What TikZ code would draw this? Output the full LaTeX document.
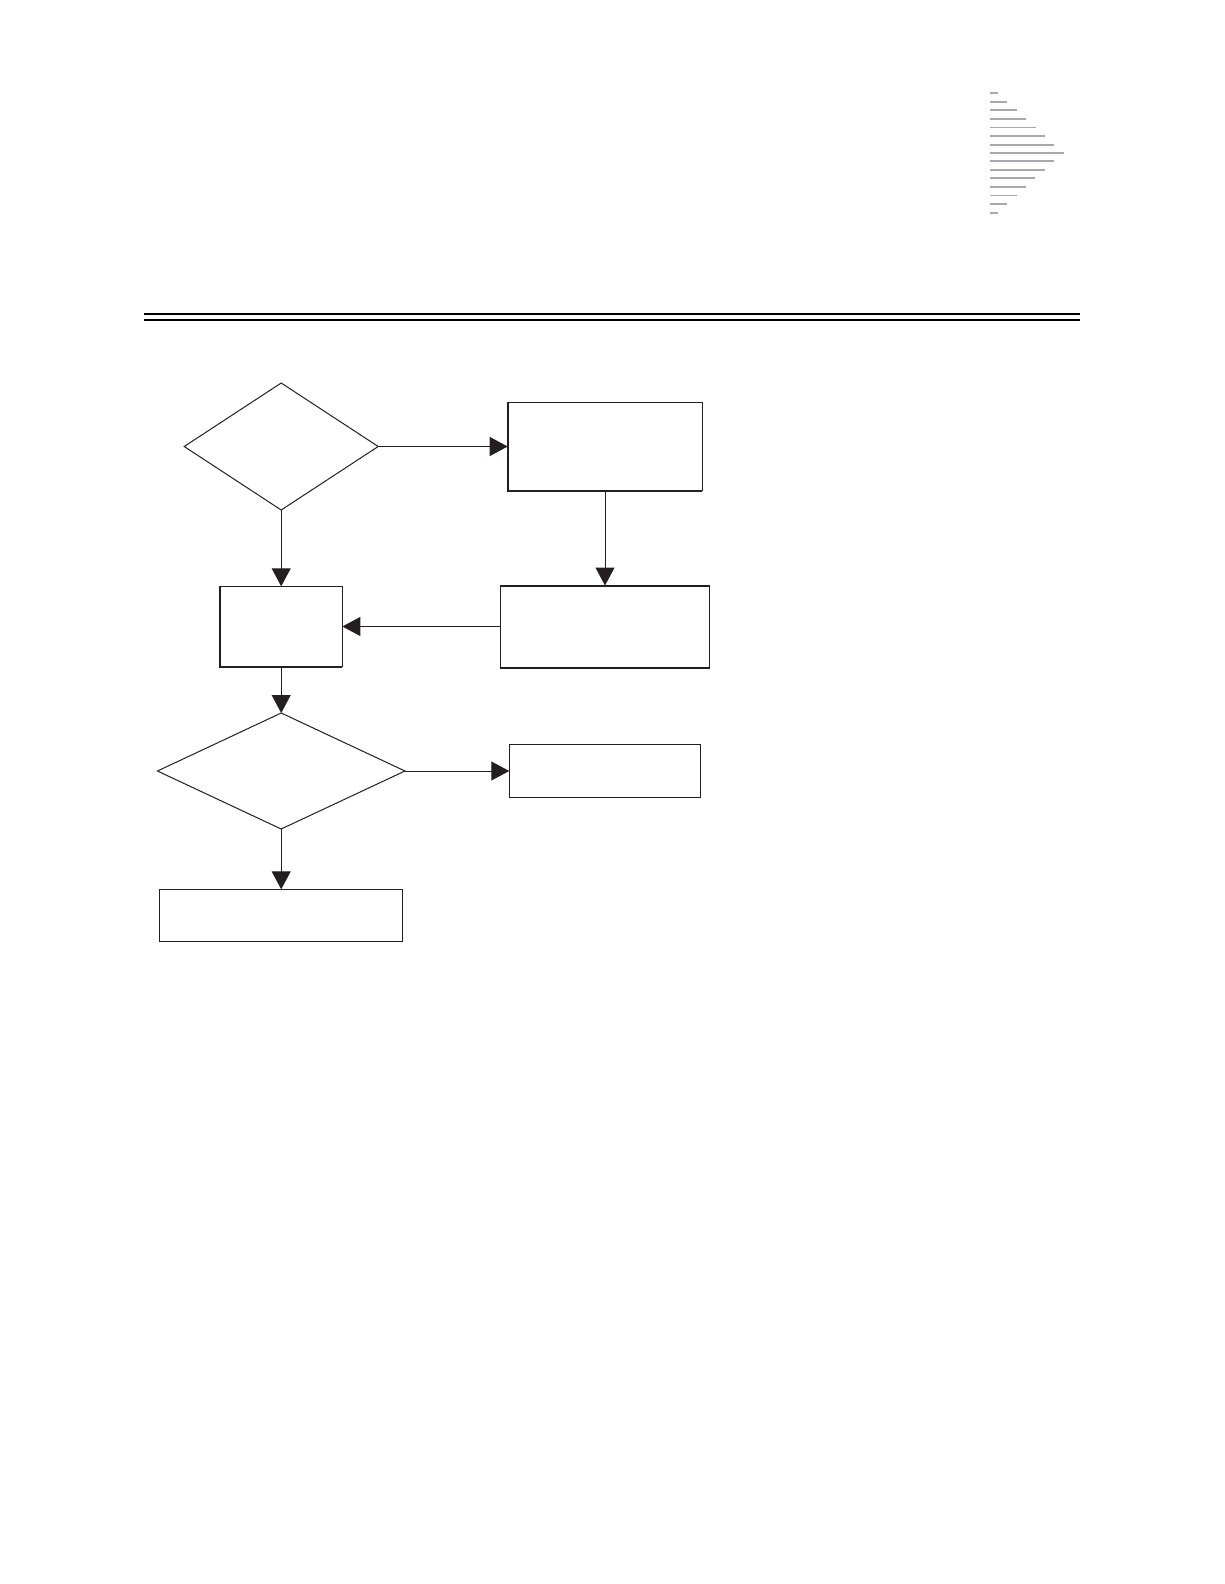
\documentclass[tikz,border=0pt]{standalone}
\usetikzlibrary{shapes.geometric,arrows.meta}
\definecolor{ink}{HTML}{231F20}
\definecolor{sparkgray}{HTML}{A7A9AC}
\tikzset{
  x=1pt,y=-1pt,
  flowbox/.style={rectangle,draw=ink,line width=1pt,inner sep=0pt,outer sep=0pt,fill=white},
  decision/.style={diamond,draw=ink,line width=1pt,inner sep=0pt,outer sep=0pt,fill=white},
  heavyedge/.style={draw=ink,line width=2pt,line cap=butt,line join=miter},
  flow/.style={draw=ink,line width=1pt,-{Triangle[length=18pt,width=19pt,fill=ink]}},
  headrule/.style={draw=black,line width=2.4pt},
  spark/.style={draw=sparkgray,line width=1.8pt},
  sparkthin/.style={draw=sparkgray,line width=1pt}
}
\begin{document}
\begin{tikzpicture}
\useasboundingbox[fill=white] (0,0) rectangle (1224,1584);
% header rules
\draw[headrule] (144,314.2) -- (1080,314.2);
\draw[headrule] (144,320) -- (1080,320);
% corner mark
\draw[spark] (990,92.7) -- (998,92.7);
\draw[spark] (990,101.7) -- (1007,101.7);
\draw[spark] (990,110) -- (1017,110);
\draw[spark] (990,119) -- (1026,119);
\draw[sparkthin] (990,127.3) -- (1036,127.3);
\draw[spark] (990,136) -- (1045,136);
\draw[spark] (990,144.7) -- (1054,144.7);
\draw[spark] (990,152.7) -- (1063.7,152.7);
\draw[spark] (990,161) -- (1054,161);
\draw[spark] (990,169.7) -- (1045,169.7);
\draw[spark] (990,178) -- (1035,178);
\draw[spark] (990,186.7) -- (1026,186.7);
\draw[sparkthin] (990,195.3) -- (1017,195.3);
\draw[spark] (990,204) -- (1007,204);
\draw[spark] (990,212.7) -- (998,212.7);
% nodes
\node[decision,minimum width=194pt,minimum height=127pt] (d1) at (281.2,446.5) {};
\node[flowbox,minimum width=194.6pt,minimum height=88.7pt] (a) at (605,446.5) {};
\node[flowbox,minimum width=209.4pt,minimum height=82pt] (b) at (605,626.5) {};
\node[flowbox,minimum width=122.3pt,minimum height=80.4pt] (c) at (281.2,626.5) {};
\node[decision,minimum width=247.5pt,minimum height=116pt] (d2) at (281.2,771) {};
\node[flowbox,minimum width=191.5pt,minimum height=53pt] (e) at (605,771) {};
\node[flowbox,minimum width=243pt,minimum height=52.4pt] (f) at (281.2,915.5) {};
% heavier edges
\draw[heavyedge] (a.north west) -- (a.south west) -- (a.south east);
\draw[heavyedge] (b.north west) -- (b.north east);
\draw[heavyedge] (b.south west) -- (b.south east);
\draw[heavyedge] (c.north west) -- (c.south west) -- (c.south east);
% connectors
\draw[flow] (d1.east) -- (a.west);
\draw[flow] (d1.south) -- (c.north);
\draw[flow] (a.south) -- (b.north);
\draw[flow] (b.west) -- (c.east);
\draw[flow] (c.south) -- (d2.north);
\draw[flow] (d2.east) -- (e.west);
\draw[flow] (d2.south) -- (f.north);
\end{tikzpicture}
\end{document}
